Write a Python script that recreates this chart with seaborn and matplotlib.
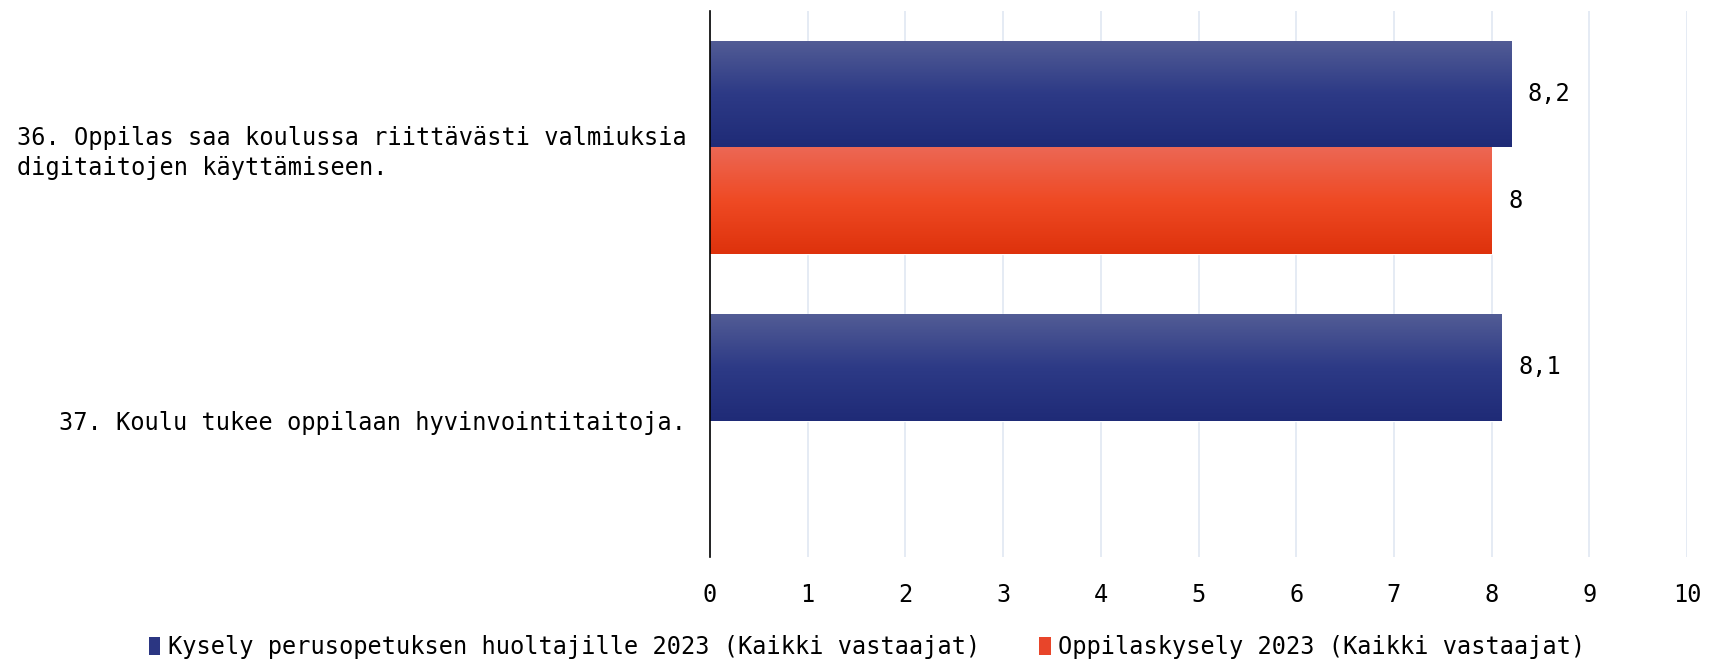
import numpy as np
import pandas as pd
import matplotlib
matplotlib.use("Agg")
import matplotlib.pyplot as plt
from matplotlib.colors import LinearSegmentedColormap
from matplotlib.patches import Patch
import seaborn as sns

# ---- data ----
categories = [
    "36. Oppilas saa koulussa riittävästi valmiuksia\ndigitaitojen käyttämiseen.",
    "37. Koulu tukee oppilaan hyvinvointitaitoja.",
]
series_names = [
    "Kysely perusopetuksen huoltajille 2023 (Kaikki vastaajat)",
    "Oppilaskysely 2023 (Kaikki vastaajat)",
]
guardians_values = [8.2, 8.1]
students_values = [8.0, np.nan]
x_ticks = [0, 1, 2, 3, 4, 5, 6, 7, 8, 9, 10]

rows = []
for c, g, s in zip(categories, guardians_values, students_values):
    rows.append({"cat": c, "series": series_names[0], "value": g})
    if not np.isnan(s):
        rows.append({"cat": c, "series": series_names[1], "value": s})
df = pd.DataFrame(rows)

blue_grad = ["#525c95", "#2d3a86", "#1f2b77"]
red_grad = ["#ec6754", "#ef4a24", "#de320c"]
legend_cols = ["#2b3682", "#e8452a"]

sns.set_theme(style="white")
plt.rcParams["font.family"] = ["DejaVu Sans Mono", "DejaVu Sans"]
plt.rcParams["text.color"] = "black"

fig = plt.figure(figsize=(17.13, 6.62), dpi=100)
ax = fig.add_axes([0.4145, 0.1586, 0.5703, 0.8248])

sns.barplot(data=df, y="cat", x="value", hue="series", order=categories,
            hue_order=series_names, palette=legend_cols, orient="h",
            width=0.78, dodge=True, ax=ax, legend=False, saturation=1)

ax.set_xlim(0, 10)
ax.set_ylim(1.5, -0.5)
ax.set_xticks(x_ticks)
ax.set_xticklabels([str(t) for t in x_ticks])
ax.grid(axis="x", color="#e3e9f3", linewidth=1.3)
ax.set_axisbelow(True)
for sp in ["top", "right", "bottom"]:
    ax.spines[sp].set_visible(False)
ax.spines["left"].set_color("black")
ax.spines["left"].set_linewidth(1.2)
ax.set_xlabel("")
ax.set_ylabel("")
ax.tick_params(axis="x", length=0, pad=19, labelsize=17, colors="black")
ax.tick_params(axis="y", length=0, pad=17, labelsize=17, colors="black")
for lbl in ax.get_yticklabels():
    lbl.set_multialignment("left")
    lbl.set_linespacing(1.3)

# gradient fills + value labels
for cont, grad in zip(ax.containers, [blue_grad, red_grad]):
    cmap = LinearSegmentedColormap.from_list("g", grad)
    for p in cont.patches:
        if not np.isfinite(p.get_width()) or p.get_width() == 0:
            continue
        x0, y0 = p.get_x(), p.get_y()
        w, h = p.get_width(), p.get_height()
        grad_img = np.linspace(0, 1, 100).reshape(-1, 1)
        im = ax.imshow(grad_img, cmap=cmap, aspect="auto",
                       extent=[x0, x0 + w, y0 + h, y0], origin="upper",
                       zorder=p.get_zorder() + 0.1)
        im.set_clip_path(p)
    labels = []
    for p in cont.patches:
        v = p.get_width()
        labels.append(("%g" % v).replace(".", ",") if np.isfinite(v) and v else "")
    ax.bar_label(cont, labels=labels, padding=12, fontsize=17, color="black")

ax.set_xlim(0, 10)
ax.set_ylim(1.5, -0.5)

handles = [Patch(facecolor=c, edgecolor="none") for c in legend_cols]
leg = fig.legend(handles, series_names, loc="lower center", bbox_to_anchor=(0.506, -0.028),
                 ncol=2, frameon=False, fontsize=17, handlelength=0.5, handleheight=0.8,
                 handletextpad=0.3, columnspacing=2.5)
for t in leg.get_texts():
    t.set_color("black")

fig.savefig("out.png", dpi=100)
